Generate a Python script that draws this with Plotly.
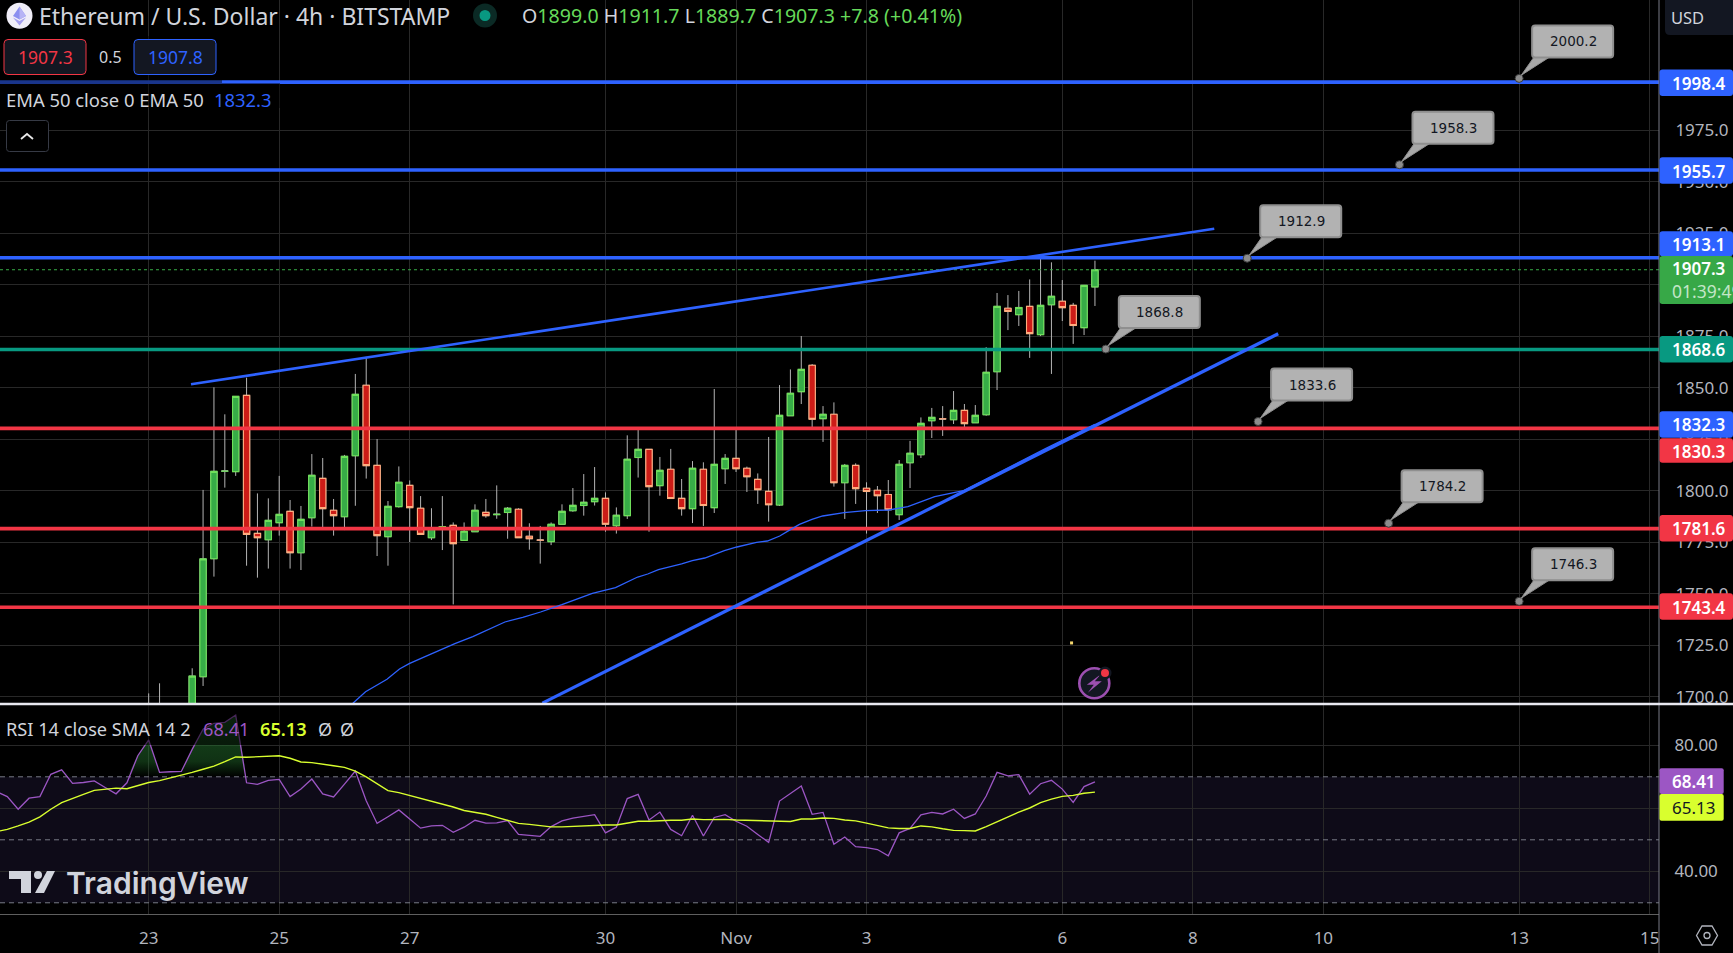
import pandas as pd
import plotly.graph_objects as go

# ---------- data ----------
BASE = pd.Timestamp("2023-10-23 00:00:00")
opens = [1688,1691,1689,1686,1690,
 1709.7,1767.0,1809.5,1809.3,1846.3,
 1779.3,1776.2,1784.5,1790.0,1769.9,1786.9,1806.0,1790.5,1787.4,1817.0,
 1851.2,1812.3,1777.7,1792.3,1802.6,1791.5,1777.2,1782.4,1783.2,1775.9,
 1780.1,1789.5,1788.4,1789.4,1791.0,1777.9,1776.1,1775.3,1783.7,1790.3,
 1792.8,1794.7,1796.3,1783.0,1787.9,1816.1,1820.1,1802.5,1810.4,1796.3,
 1791.3,1810.4,1791.8,1810.7,1815.7,1810.9,1805.5,1799.7,1793.1,1836.4,
 1848.1,1860.9,1835.0,1837.1,1803.9,1812.3,1801.2,1800.2,1798.2,1788.4,
 1813.6,1817.5,1834.0,1834.9,1834.5,1839.0,1833.0,1836.9,1857.8,1888.6,
 1885.5,1889.5,1875.8,1890.3,1892.0,1890.0,1879.2,1899.0]
closes = [1691,1694,1686,1690,1710.0,
 1766.9,1809.4,1809.6,1845.8,1778.8,
 1777.2,1785.6,1788.5,1769.9,1786.1,1807.5,1791.3,1787.9,1816.7,1846.8,
 1812.2,1778.2,1792.4,1804.1,1791.8,1778.8,1781.7,1782.6,1774.3,1780.3,
 1790.5,1787.9,1788.6,1791.5,1777.2,1776.7,1776.0,1783.7,1790.0,1792.9,
 1794.4,1796.3,1783.7,1788.1,1815.3,1820.1,1802.0,1809.9,1796.2,1791.3,
 1810.9,1792.8,1812.8,1815.7,1810.7,1806.8,1800.5,1793.2,1836.6,1847.3,
 1858.9,1834.7,1837.1,1803.9,1812.3,1801.0,1799.6,1797.6,1790.8,1812.8,
 1818.2,1832.7,1835.6,1834.8,1839.0,1832.6,1836.6,1857.5,1889.5,1887.1,
 1889.0,1876.3,1890.0,1894.4,1888.9,1880.2,1899.7,1907.3]
highs = [1701.6,1706.5,1694,1695,1713.8,
 1800.4,1850.2,1837.1,1845.8,1854.9,
 1798.7,1796.3,1807.2,1795.5,1792.6,1817.8,1815.9,1796.0,1817.4,1856.7,
 1865.0,1825.1,1795.0,1811.8,1805.0,1797.4,1791.5,1797.4,1784.6,1784.6,
 1793.4,1796.0,1802.6,1792.1,1791.5,1784.2,1782.9,1784.6,1793.4,1801.3,
 1808.1,1811.5,1799.2,1791.9,1826.9,1830.3,1820.1,1816.4,1820.3,1805.7,
 1814.4,1813.8,1849.4,1817.8,1829.5,1811.7,1808.4,1826.1,1851.3,1858.9,
 1875.1,1861.5,1841.1,1842.9,1813.0,1813.3,1804.1,1802.3,1805.2,1814.9,
 1824.2,1835.6,1840.2,1841.1,1848.4,1842.1,1841.6,1869.7,1896.0,1895.0,
 1897.0,1902.6,1913.3,1910.9,1902.3,1891.2,1899.9,1911.7]
lows = [1684,1688,1682,1683,1688,
 1705.2,1758.3,1801.5,1807.2,1763.6,
 1757.8,1762.2,1778.2,1762.2,1761.5,1782.6,1781.4,1778.2,1780.9,1792.7,
 1805.9,1768.3,1763.6,1791.8,1775.1,1778.8,1776.1,1771.2,1744.8,1775.9,
 1780.1,1786.9,1786.4,1776.7,1777.2,1771.4,1764.6,1773.6,1783.7,1789.8,
 1787.9,1792.8,1780.1,1779.2,1786.3,1806.4,1780.1,1797.6,1796.2,1787.9,
 1784.3,1782.9,1789.2,1803.3,1809.1,1799.4,1793.6,1785.0,1792.6,1836.3,
 1842.1,1830.6,1823.7,1802.0,1786.3,1793.6,1779.2,1789.2,1782.2,1785.8,
 1801.3,1815.9,1825.6,1826.6,1832.4,1829.5,1833.0,1836.4,1848.9,1878.0,
 1880.0,1864.5,1875.1,1856.7,1882.4,1871.3,1875.6,1889.7]

ema_bars = [17,18.80,19.94,21.91,23.06,23.95,25.2,26.84,28.15,29.8,31.28,32.75,34.39,36.03,37.99,39.64,
 40.79,42.92,43.9,44.96,45.88,46.87,49,49.98,51.13,52.93,54.08,55.89,56.88,58.02,59,59.83,60.98,61.97,
 63.93,65.9,68.03,69.8,72.27,74.9,78.25,82.4,87]
ema_vals = [1690,1696.94,1702.44,1708.43,1713.45,1716.04,1718.95,1722.83,1725.75,1729.15,1732.55,1736.27,
 1738.53,1741.12,1744.68,1748.08,1750.18,1752.94,1755.36,1758.11,1759.57,1761.67,1764.43,1766.05,1767.34,
 1770.9,1772.68,1774.95,1775.59,1778.02,1781.1,1783.69,1786.11,1787.73,1789.35,1790.32,1790.64,1792.25,
 1797.1,1800.0,1809.1,1820.3,1832.3]

rsi_start = -14
rsi_vals = [65.3,63.7,59.7,63.2,63.7,70.8,72.2,67.9,68.2,68.7,66.6,64.6,68.1,76.7,
 81.7,71.4,71.6,71.7,78.7,85.1,87.0,87.3,89.6,68.1,67.6,68.9,69.2,63.7,66.1,69.3,64.6,63.6,67.7,71.8,
 62.4,55.2,57.3,59.5,56.6,53.7,54.4,54.6,52.4,54.0,56.2,55.3,55.4,56.1,51.7,51.5,51.1,54.2,56.0,56.9,
 57.4,58.0,52.2,54.0,63.1,64.4,56.3,58.8,53.3,51.3,57.8,51.2,57.1,58.0,55.9,54.3,51.7,49.2,62.3,64.8,
 67.1,58.1,58.7,48.6,50.9,47.8,47.5,46.9,44.9,52.2,53.6,57.9,58.7,58.2,59.7,56.8,58.2,63.9,71.4,70.3,
 70.7,64.5,67.8,68.9,66.1,61.9,66.9,68.41]
sma_vals = [52.6,53.3,54.4,55.6,57.3,59.7,61.8,63.2,64.4,65.7,66.0,66.4,66.2,67.2,
 68.2,68.8,69.6,70.4,71.4,72.4,73.4,74.8,76.3,76.2,76.3,76.6,76.7,75.9,74.7,74.5,74.1,73.5,73.0,71.8,
 70.0,67.7,65.6,65.0,64.1,63.1,62.1,61.4,60.4,59.3,58.7,58.1,57.1,56.2,55.2,54.9,54.4,54.1,54.1,54.3,
 54.4,54.7,54.7,54.7,55.3,55.9,55.9,56.1,56.2,56.2,56.6,56.4,56.5,56.5,56.3,56.2,56.2,55.9,55.8,55.8,
 56.6,56.6,56.9,56.8,56.3,56.0,55.3,54.6,53.8,53.6,53.6,54.4,54.1,53.5,53.0,52.9,52.8,54.2,55.8,57.2,
 58.8,60.1,61.8,62.9,63.8,64.1,64.8,65.13]

blue_levels = [1998.4, 1955.7, 1913.1]
teal_levels = [1868.6]
red_levels = [1830.3, 1781.6, 1743.4]
last_price = 1907.3

upper_trend_bars = [3.89, 97.97]
upper_trend_vals = [1851.7, 1927.2]
lower_trend_bars = [36.2, 103.85]
lower_trend_vals = [1696.9, 1876.2]

callout_vals = [2000.2, 1958.3, 1912.9, 1868.8, 1833.6, 1784.2, 1746.3]
callout_bars = [126, 115, 101, 88, 102, 114, 126]

price_ticks = [1700,1725,1750,1775,1800,1825,1850,1875,1900,1925,1950,1975]
rsi_ticks = [40,60,80]
rsi_labels = ["40.00","","80.00"]
rsi_bands = [70,50,30]
date_tick_bars = [0,12,24,42,54,66,84,96,108,126,138]
date_tick_labels = ["23","25","27","30","Nov","3","6","8","10","13","15"]
spark_bar, spark_val = 84.85, 1726.1

# ---------- layout constants ----------
W, H = 1733, 953
PW, PH = 1659, 914
FONT = "Noto Sans"
BG = "#000000"
GRID = "#282828"
TXT = "#d1d4dc"
BLUE = "#2e62ff"
RED = "#f23645"
TEAL = "#089981"
GFILL, GLINE = "#37ac47", "#6fe05a"
RFILL, RLINE = "#cc1c17", "#ffad7f"
VAL_GREEN = "#66d95a"

def t(i):
    return BASE + pd.to_timedelta(float(i) * 4, unit="h")

def ts(seq):
    return [t(i) for i in seq]

bars = list(range(len(opens)))
bar_x = ts(bars)
x_l, x_r = t(-13.67), t(138.86)
full_x = [x_l, x_r]

fig = go.Figure()
for lv, col in [(v, BLUE) for v in blue_levels] + [(v, TEAL) for v in teal_levels] + [(v, RED) for v in red_levels]:
    fig.add_trace(go.Scatter(x=full_x, y=[lv, lv], mode="lines", line=dict(color=col, width=3.6), hoverinfo="skip"))
fig.add_trace(go.Scatter(x=full_x, y=[last_price]*2, mode="lines", line=dict(color="#37ac47", width=1, dash="dot"), hoverinfo="skip"))

fig.add_trace(go.Candlestick(x=bar_x, open=opens, high=highs, low=lows, close=closes, whiskerwidth=0,
    increasing=dict(line=dict(color="#b4b4b4", width=1), fillcolor=GFILL),
    decreasing=dict(line=dict(color="#b4b4b4", width=1), fillcolor=RFILL), hoverinfo="skip"))
body_hi = [max(o, c) for o, c in zip(opens, closes)]
body_lo = [min(o, c) for o, c in zip(opens, closes)]
fig.add_trace(go.Candlestick(x=bar_x, open=opens, high=body_hi, low=body_lo, close=closes, whiskerwidth=0,
    increasing=dict(line=dict(color=GLINE, width=1.1), fillcolor=GFILL),
    decreasing=dict(line=dict(color=RLINE, width=1.1), fillcolor=RFILL), hoverinfo="skip"))

fig.add_trace(go.Scatter(x=ts(ema_bars), y=ema_vals, mode="lines", line=dict(color=BLUE, width=1.3), hoverinfo="skip"))
fig.add_trace(go.Scatter(x=ts(upper_trend_bars), y=upper_trend_vals, mode="lines", line=dict(color=BLUE, width=2.6), hoverinfo="skip"))
fig.add_trace(go.Scatter(x=ts(lower_trend_bars), y=lower_trend_vals, mode="lines", line=dict(color=BLUE, width=3.2), hoverinfo="skip"))
fig.add_trace(go.Scatter(x=[t(spark_bar)], y=[spark_val], mode="markers", marker=dict(color="#f5d76e", size=3, symbol="square"), hoverinfo="skip"))
fig.add_trace(go.Scatter(x=ts(callout_bars), y=callout_vals, mode="markers",
    marker=dict(color="#8c8c8c", size=8, line=dict(color="#3a3a3a", width=1)), hoverinfo="skip"))

# RSI pane
rsi_x = ts(range(rsi_start, rsi_start + len(rsi_vals)))
over = [max(v, 70) for v in rsi_vals]
fig.add_trace(go.Scatter(x=rsi_x, y=[70]*len(rsi_x), mode="lines", line=dict(width=0), yaxis="y2", hoverinfo="skip"))
fig.add_trace(go.Scatter(x=rsi_x, y=over, mode="lines", line=dict(width=0), fill="tonexty", yaxis="y2", hoverinfo="skip",
    fillgradient=dict(type="vertical", colorscale=[[0, "rgba(30,110,40,0.0)"], [0.25, "rgba(35,110,45,0.45)"], [1, "rgba(40,130,50,0.6)"]])))
for b in rsi_bands:
    fig.add_trace(go.Scatter(x=full_x, y=[b, b], mode="lines", yaxis="y2", hoverinfo="skip",
        line=dict(color="#787b86", width=1, dash="5px,4px")))
fig.add_trace(go.Scatter(x=rsi_x, y=rsi_vals, mode="lines", line=dict(color="#9c56c4", width=1.3), yaxis="y2", hoverinfo="skip"))
fig.add_trace(go.Scatter(x=rsi_x, y=sma_vals, mode="lines", line=dict(color="#d9ff2e", width=1.4), yaxis="y2", hoverinfo="skip"))

# ---------- helpers in page pixels ----------
def px(x): return x / PW
def py(y): return 1 - y / PH

shapes, annots = [], []

def rrect(x0, y0, x1, y1, r=3, fill=None, line=None, lw=1, layer="above", opacity=1):
    X0, X1, Y0, Y1 = px(x0), px(x1), py(y0), py(y1)
    rx, ry = r / PW, r / PH
    p = (f"M {X0+rx} {Y0} L {X1-rx} {Y0} Q {X1} {Y0} {X1} {Y0-ry} L {X1} {Y1+ry} Q {X1} {Y1} {X1-rx} {Y1} "
         f"L {X0+rx} {Y1} Q {X0} {Y1} {X0} {Y1+ry} L {X0} {Y0-ry} Q {X0} {Y0} {X0+rx} {Y0} Z")
    shapes.append(dict(type="path", path=p, xref="paper", yref="paper", fillcolor=fill or "rgba(0,0,0,0)",
                       line=dict(color=line or "rgba(0,0,0,0)", width=lw), layer=layer, opacity=opacity))

def rect(x0, y0, x1, y1, fill, layer="above", opacity=1):
    shapes.append(dict(type="rect", xref="paper", yref="paper", x0=px(x0), x1=px(x1), y0=py(y0), y1=py(y1),
                       fillcolor=fill, line=dict(width=0), layer=layer, opacity=opacity))

def circ(cx, cy, r, fill, line=None, lw=0):
    shapes.append(dict(type="circle", xref="paper", yref="paper", x0=px(cx-r), x1=px(cx+r), y0=py(cy+r), y1=py(cy-r),
                       fillcolor=fill, line=dict(color=line or "rgba(0,0,0,0)", width=lw), layer="above"))

def poly(pts, fill=None, line=None, lw=1, closed=True):
    p = "M " + " L ".join(f"{px(a)} {py(b)}" for a, b in pts) + (" Z" if closed else "")
    shapes.append(dict(type="path", path=p, xref="paper", yref="paper", fillcolor=fill or "rgba(0,0,0,0)",
                       line=dict(color=line or "rgba(0,0,0,0)", width=lw), layer="above"))

def txt(x, y, s, size=16, color=TXT, anchor="left", family=FONT, weight=None):
    f = dict(family=family, size=size, color=color)
    if weight:
        f["weight"] = weight
    annots.append(dict(xref="paper", yref="paper", x=px(x), y=py(y), text=s, showarrow=False, xanchor=anchor,
                       yanchor="middle", borderpad=0, font=f))

# legend backdrops
rect(0, 36, 222, 83, "#000000", opacity=0.45)
rect(0, 83, 280, 108, "#000000", opacity=0.45)
rect(0, 705, 360, 745, "#000000", opacity=0.55)

# RSI band
shapes.append(dict(type="rect", xref="paper", yref="y2", x0=0, x1=1, y0=30, y1=70,
                   fillcolor="#0e0b18", line=dict(width=0), layer="below"))

# separators
shapes.append(dict(type="line", xref="paper", yref="paper", x0=1, x1=1, y0=py(953), y1=1,
                   line=dict(color="#787b86", width=1), layer="above"))
shapes.append(dict(type="line", xref="paper", yref="paper", x0=0, x1=px(W), y0=py(704), y1=py(704),
                   line=dict(color="#e8e8f0", width=2.5), layer="above"))

# header
circ(19.5, 15.7, 13, "#f0eef8")
poly([(19.5, 6.5), (26, 16), (19.5, 19.5), (13, 16)], fill="#8b8ff0")
poly([(19.5, 6.5), (26, 16), (19.5, 19.5)], fill="#b7b4f5")
poly([(13, 17.5), (19.5, 21), (26, 17.5), (19.5, 25.5)], fill="#a5a0f0")
txt(38, 16, "Ethereum / U.S. Dollar · 4h · BITSTAMP", size=23)
circ(485, 15.5, 12, "#0b2a25")
circ(485, 15.5, 5.5, TEAL)
g = lambda s: f'<span style="color:{VAL_GREEN}">{s}</span>'
txt(521, 15.5, f"O{g('1899.0')} H{g('1911.7')} L{g('1889.7')} C{g('1907.3')} {g('+7.8 (+0.41%)')}", size=19.6)

# bid/ask
rrect(4, 39.5, 86, 74.5, r=4, fill="#131722", line=RED)
txt(45, 57, "1907.3", size=17.5, color=RED, anchor="center")
txt(110, 57, "0.5", size=16, anchor="center")
rrect(134, 39.5, 216, 74.5, r=4, fill="#131722", line=BLUE)
txt(175, 57, "1907.8", size=17.5, color=BLUE, anchor="center")
txt(5, 99.5, "EMA 50 close 0 EMA 50", size=18.4)
txt(213, 99.5, "1832.3", size=18.4, color=BLUE)
rrect(6.5, 120.5, 48.5, 151.5, r=3, fill="#000000", line="#363a45")
poly([(21, 139), (27, 134), (33, 139)], line="#e8e8e8", lw=1.8, closed=False)

# RSI legend
txt(5, 729, "RSI 14 close SMA 14 2", size=18.2)
txt(202, 729, "68.41", size=18.2, color="#9c56c4")
txt(259, 729, "65.13", size=18.2, color="#d9ff2e", weight=600)
txt(317, 729, "Ø", size=18)
txt(339, 729, "Ø", size=18)

# TradingView logo
tvc = "#d1d4dc"
poly([(9, 871), (31, 871), (31, 893), (21, 893), (21, 879), (9, 879)], fill=tvc)
circ(38, 875, 4, tvc)
poly([(47, 871), (55, 871), (44, 893), (35, 893)], fill=tvc)
txt(65, 883, "TradingView", size=30, color=tvc, family="Inter", weight=600)

# USD box
rrect(1665, -4, 1740, 35, r=5, fill="#131722")
txt(1670.5, 17, "USD", size=16.5)

# price badges: (text, centre y px, fill, text colour)
def badge(s, cy, fill, col="#ffffff", x1=1733, h=26.5):
    rrect(1659.5, cy - h/2, x1, cy + h/2, r=3, fill=fill)
    txt(1671, cy + 0.5, s, size=17, color=col, weight=600)

badge("1998.4", 82.7, BLUE)
badge("1955.7", 170.5, BLUE)
badge("1913.1", 243.7, BLUE, h=25)
rrect(1659.5, 256, 1733, 304, r=3, fill="#37a847")
txt(1671, 268.5, "1907.3", size=17, color="#ffffff", weight=600)
txt(1671, 290.5, "01:39:49", size=17.5, color="#c3e6c7")
badge("1868.6", 349.3, TEAL)
badge("1832.3", 424.4, BLUE)
badge("1830.3", 450.5, RED, h=24.5)
badge("1781.6", 528.3, RED)
badge("1743.4", 606.5, RED)
rrect(1659.5, 768.3, 1723.7, 794, r=2, fill="#9c56c4")
txt(1671, 781.5, "68.41", size=17, color="#ffffff", weight=600)
rrect(1659.5, 794, 1723.7, 820.7, r=2, fill="#d9ff2e")
txt(1671, 807.5, "65.13", size=17, color="#131722")

# hexagon settings icon
cx, cy = 1707, 935.5
poly([(cx-10.5, cy), (cx-5, cy-9.5), (cx+5, cy-9.5), (cx+10.5, cy), (cx+5, cy+9.5), (cx-5, cy+9.5)], line="#b2b5be", lw=1.3)
circ(cx, cy, 3, "rgba(0,0,0,0)", line="#b2b5be", lw=1.3)

# lightning icon
cx, cy = 1094.3, 683.3
circ(cx, cy, 15, "#131722", line="#9c4fb0", lw=2.6)
poly([(cx+6.5, cy-9), (cx-7.5, cy+1.5), (cx-0.5, cy+1.5), (cx-6.5, cy+9.5), (cx+7.5, cy-2), (cx+0.5, cy-2)], fill="#9c4fb0")
circ(1105, 673, 6.5, "#131722")
circ(1105, 673, 4, RED)

# callouts: wedge and rounded box anchored on the value, sized in pixels
BOX = ("M 16 21 L 91 21 Q 94 21 94 24 L 94 50 Q 94 53 91 53 L 16 53 Q 13 53 13 50 L 13 24 Q 13 21 16 21 Z")
WEDGE = "M 2 3 L 16 23 L 33 23 L 5 5 Z"
for bar, val in zip(callout_bars, callout_vals):
    for path, fill, lw in [(WEDGE, "#a8a8a8", 1), (BOX, "#b2b2b2", 2)]:
        shapes.append(dict(type="path", xref="x", yref="y", xsizemode="pixel", ysizemode="pixel",
                           xanchor=t(bar), yanchor=val, path=path, fillcolor=fill,
                           line=dict(color="#8f8f8f", width=lw), layer="above"))
    annots.append(dict(xref="x", yref="y", x=t(bar), y=val, text=f"{val:.1f}", showarrow=False, xshift=54, yshift=37,
                       xanchor="center", yanchor="middle",
                       font=dict(family="DejaVu Sans", size=13.5, color="#131722")))

layout_axis = dict(showgrid=True, gridcolor=GRID, gridwidth=1, zeroline=False, showline=False)
tick_font = dict(family=FONT, size=17, color="#b2b5be")

fig.update_layout(
    width=W, height=H, margin=dict(l=0, r=W-PW, t=0, b=H-PH, pad=0), autosize=False,
    paper_bgcolor=BG, plot_bgcolor=BG, showlegend=False, hovermode=False, dragmode=False,
    boxgap=0.17,
    xaxis=dict(type="date", range=[x_l, x_r], anchor="y2", domain=[0, 1], rangeslider=dict(visible=False),
               tickmode="array", tickvals=ts(date_tick_bars), ticktext=date_tick_labels,
               ticks="outside", ticklen=9, tickcolor="rgba(0,0,0,0)", tickfont=tick_font,
               showline=True, linecolor="#5f5f5f", linewidth=1,
               **{k: v for k, v in layout_axis.items() if k != "showline"}),
    yaxis=dict(domain=[(PH-704)/PH, 1], range=[1696.45, 2038.27], side="right", anchor="x",
               tickmode="array", tickvals=price_ticks, ticktext=[f"{v:.1f}" for v in price_ticks],
               ticks="outside", ticklen=12, tickcolor="rgba(0,0,0,0)", tickfont=tick_font, **layout_axis),
    yaxis2=dict(domain=[0, (PH-705)/PH], range=[26.44, 92.8], side="right", anchor="x",
                tickmode="array", tickvals=rsi_ticks, ticktext=rsi_labels,
                ticks="outside", ticklen=11, tickcolor="rgba(0,0,0,0)", tickfont=tick_font, **layout_axis),
    shapes=shapes, annotations=annots,
)

fig.write_html("out.html", config=dict(displayModeBar=False),
               post_script="document.body.style.margin='0';document.documentElement.style.overflow='hidden';")
